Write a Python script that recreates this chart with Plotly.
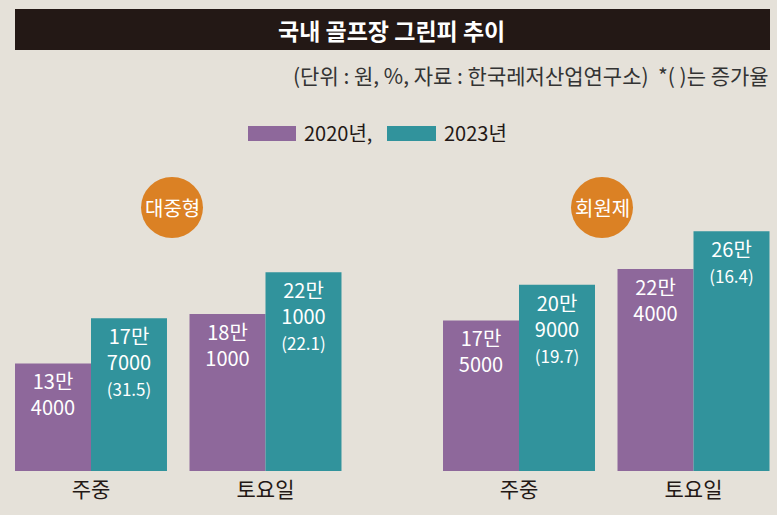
import plotly.graph_objects as go
from plotly.subplots import make_subplots

days = ["주중", "토요일"]
groups = ["대중형", "회원제"]
fee_2020 = {"대중형": [134000, 181000], "회원제": [175000, 224000]}
fee_2023 = {"대중형": [177000, 221000], "회원제": [209000, 260000]}
text_2020 = {"대중형": ["13만<br>4000", "18만<br>1000"],
             "회원제": ["17만<br>5000", "22만<br>4000"]}
text_2023 = {"대중형": ["17만<br>7000", "22만<br>1000"],
             "회원제": ["20만<br>9000", "26만"]}
growth = {"대중형": ["31.5", "22.1"], "회원제": ["19.7", "16.4"]}

PURPLE = "#8e689b"
TEAL = "#31939c"
BG = "#e5e1d9"
ORANGE = "#db8124"
DARK = "#231815"
W, H = 777, 515
FONT = "Noto Sans CJK KR"

fig = make_subplots(rows=1, cols=2)

for i, g in enumerate(groups):
    t23 = [f"{t}<br><span style='font-size:17px'>({p})</span>"
           for t, p in zip(text_2023[g], growth[g])]
    fig.add_trace(go.Bar(x=days, y=fee_2020[g], name="2020년,", marker_color=PURPLE,
                         text=text_2020[g], showlegend=False), row=1, col=i + 1)
    fig.add_trace(go.Bar(x=days, y=fee_2023[g], name="2023년", marker_color=TEAL,
                         text=t23, showlegend=False), row=1, col=i + 1)

fig.update_traces(textposition="inside", insidetextanchor="end", textangle=0,
                  constraintext="none", marker_line_width=0,
                  textfont=dict(color="white", size=20, family=FONT),
                  hoverinfo="skip")


def px_x(v):
    return v / W


def px_y(v):
    return 1 - v / H


fig.update_layout(
    width=W, height=H,
    margin=dict(l=0, r=0, t=0, b=0),
    paper_bgcolor=BG, plot_bgcolor=BG,
    barmode="group", bargap=0.129, bargroupgap=0,
    font=dict(family=FONT, color=DARK),
    xaxis=dict(domain=[px_x(3.75), px_x(352.75)], range=[-0.5, 1.5]),
    xaxis2=dict(domain=[px_x(431.75), 1], range=[-0.5, 1.4785]),
)
fig.update_xaxes(showgrid=False, zeroline=False, showline=False, ticks="",
                 tickfont=dict(size=21, color=DARK, family=FONT),
                 ticklabelstandoff=4)
fig.update_yaxes(domain=[px_y(471), px_y(200)], range=[31300, 289900],
                 visible=False, showgrid=False)

shapes = [
    dict(type="rect", xref="paper", yref="paper", x0=px_x(15), x1=px_x(770),
         y0=px_y(50), y1=px_y(9), fillcolor=DARK, line_width=0),
    dict(type="rect", xref="paper", yref="paper", x0=px_x(248), x1=px_x(296),
         y0=px_y(141), y1=px_y(126), fillcolor=PURPLE, line_width=0),
    dict(type="rect", xref="paper", yref="paper", x0=px_x(387), x1=px_x(436),
         y0=px_y(141), y1=px_y(126), fillcolor=TEAL, line_width=0),
]
circle_cx = [172, 602]
for cx in circle_cx:
    shapes.append(dict(type="circle", xref="paper", yref="paper",
                       x0=px_x(cx - 31), x1=px_x(cx + 31),
                       y0=px_y(238), y1=px_y(177),
                       fillcolor=ORANGE, line_width=0, layer="below"))

annotations = [
    dict(text="<b>국내 골프장 그린피 추이</b>", x=px_x(392), y=px_y(29.5),
         font=dict(size=23, color="white")),
    dict(text="(단위 : 원, %, 자료 : 한국레저산업연구소)  *( )는 증가율",
         x=px_x(771), y=px_y(75), xanchor="right", font=dict(size=21, color="#333333")),
    dict(text="2020년,", x=px_x(302), y=px_y(133), xanchor="left",
         font=dict(size=20, color=DARK)),
    dict(text="2023년", x=px_x(442), y=px_y(133), xanchor="left",
         font=dict(size=20, color=DARK)),
]
for cx, g in zip(circle_cx, groups):
    annotations.append(dict(text=g, x=px_x(cx), y=px_y(207.5),
                            font=dict(size=20, color="white")))
for a in annotations:
    a.setdefault("xanchor", "center")
    a.update(xref="paper", yref="paper", showarrow=False, yanchor="middle")

fig.update_layout(shapes=shapes, annotations=annotations)

fig.write_html("out.html", config={"displayModeBar": False},
               post_script="document.body.style.margin='0';")
